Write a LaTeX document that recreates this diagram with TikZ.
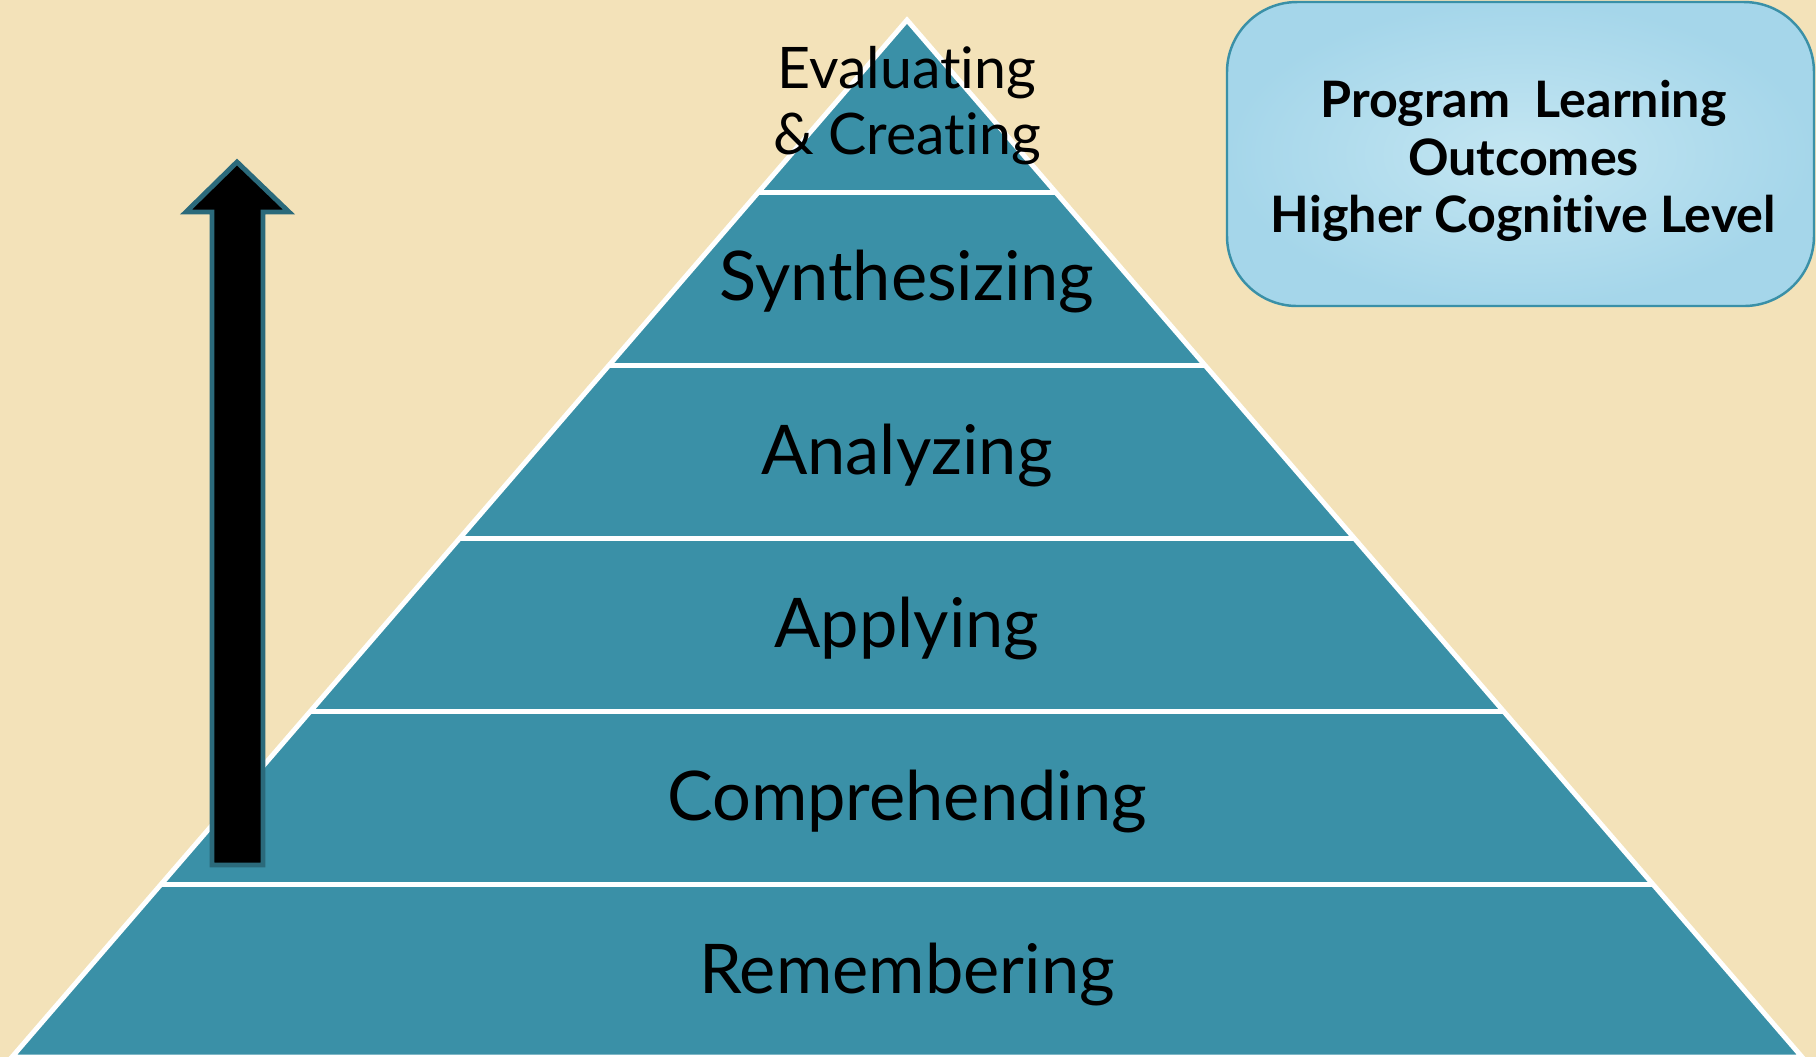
\documentclass[tikz,border=0pt]{standalone}
\usepackage{fontspec}
\setmainfont{Lato}[Ligatures=NoCommon]
\usetikzlibrary{calc}
\definecolor{paper}{HTML}{F3E2B9}
\definecolor{pyrteal}{HTML}{3A90A7}
\definecolor{arrowedge}{HTML}{2B6A7B}
\definecolor{boxin}{HTML}{C4E6F2}
\definecolor{boxout}{HTML}{A5D6EA}

\begin{document}
\begin{tikzpicture}[x=0.1mm, y=-0.1mm,
    lvl/.style={inner sep=0pt, font=\fontsize{19.5}{22}\selectfont},
    outbox/.style={draw=pyrteal, line width=0.7pt, rounded corners=7mm,
      inner color=boxin, outer color=boxout, minimum width=58.7mm,
      minimum height=30.4mm},
    boxtext/.style={inner sep=0pt, align=center,
      font=\bfseries\fontsize{14.3}{16.4}\selectfont}]
    \fill[paper] (0,0) rectangle (1816,1057);
    \useasboundingbox (0,0) rectangle (1816,1057);
    % pyramid
    \coordinate (apex) at (907,20);
    \coordinate (bl) at (12,1057);
    \coordinate (br) at (1802,1057);
    \filldraw[fill=pyrteal, draw=white, line width=1.4pt] (apex) -- (bl) -- (br) -- cycle;
    \foreach \k in {1,...,5}
      \draw[white, line width=1.4pt] ($(apex)!\k/6!(bl)$) -- ($(apex)!\k/6!(br)$);
    \node[lvl, align=center, font=\fontsize{16.3}{18.8}\selectfont] (eval) at (907,106) {Evaluating\\ \& Creating};
    \node[lvl] (syn) at (907,281) {Synthesizing};
    \node[lvl] (ana) at (907,455) {Analyzing};
    \node[lvl] (app) at (907,628) {Applying};
    \node[lvl] (com) at (907,801) {Comprehending};
    \node[lvl] (rem) at (907,974) {Remembering};
    % arrow
    \filldraw[fill=black, draw=arrowedge, line width=1.4pt] (237,162) -- (289,212) -- (263,212) -- (263,865) -- (212,865) -- (212,212) -- (186,212) -- cycle;
    % outcome box
    \node[outbox] (plo) at (1520.5,154) {};
    \node[boxtext] (plotext) at ($(plo.center)+(3,7)$) {Program\ \ Learning\\Outcomes\\Higher Cognitive Level};
\end{tikzpicture}
\end{document}
